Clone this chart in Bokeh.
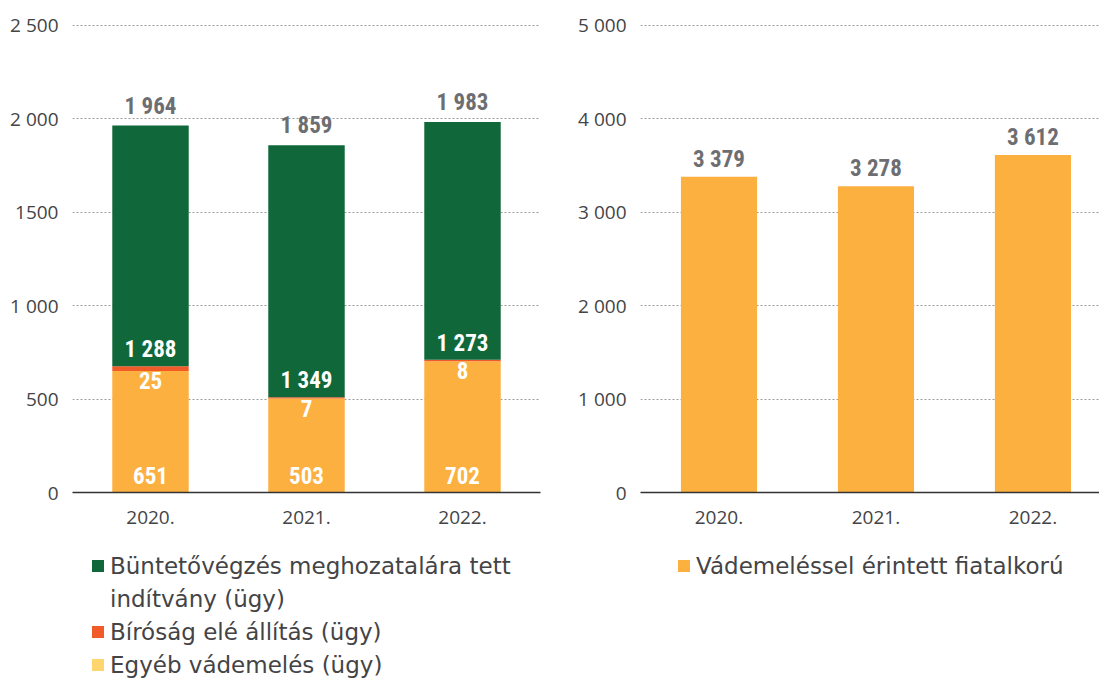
from bokeh.plotting import figure
from bokeh.layouts import row, column
from bokeh.models import (ColumnDataSource, FactorRange, Range1d, FixedTicker,
                          Legend, LegendItem)
from bokeh.embed import file_html
from bokeh.resources import INLINE
from bokeh.core.properties import value

# ---------------- data ----------------
years = ["2020.", "2021.", "2022."]
egyeb = [651, 503, 702]            # Egyéb vádemelés (ügy)
birosag = [25, 7, 8]               # Bíróság elé állítás (ügy)
buntetovegzes = [1288, 1349, 1273] # Büntetővégzés meghozatalára tett indítvány (ügy)
osszes = [1964, 1859, 1983]        # totals
fiatalkoru = [3379, 3278, 3612]    # Vádemeléssel érintett fiatalkorú

left_ticks = [0, 500, 1000, 1500, 2000, 2500]
left_tick_labels = ["0", "500", "1 000", "1500", "2 000", "2 500"]
right_ticks = [0, 1000, 2000, 3000, 4000, 5000]
right_tick_labels = ["0", "1 000", "2 000", "3 000", "4 000", "5 000"]

# first legend label wraps onto two lines
legend_left = [["Büntetővégzés meghozatalára tett", "indítvány (ügy)"],
               ["Bíróság elé állítás (ügy)"],
               ["Egyéb vádemelés (ügy)"]]
legend_right = [["Vádemeléssel érintett fiatalkorú"]]

# ---------------- style ----------------
GREEN = "#10683a"
RED = "#f15a29"
ORANGE = "#fbb040"
YELLOW = "#ffd56e"
LABEL_GREY = "#6d6e71"
TEXT = "#444446"
NUM_FONT = "'Roboto Condensed', Roboto"
TXT_FONT = "DejaVu Sans"
CHART_H = 540
LEG_H = 142
ROW_H = 33


def fmt(v):
    return f"{v:,}".replace(",", " ")


def style(p, ticks, tick_labels):
    p.outline_line_color = None
    p.xgrid.grid_line_color = None
    p.ygrid.grid_line_color = "#9a9a9a"
    p.ygrid.grid_line_dash = "2 2"
    p.ygrid.grid_line_width = 1
    p.yaxis.ticker = FixedTicker(ticks=ticks)
    p.yaxis.major_label_overrides = {t: l for t, l in zip(ticks, tick_labels)}
    p.yaxis.axis_line_color = None
    p.yaxis.major_tick_line_color = None
    p.yaxis.minor_tick_line_color = None
    p.yaxis.major_label_standoff = 8
    p.yaxis.major_label_text_font = "Open Sans"
    p.yaxis.major_label_text_font_size = "19px"
    p.yaxis.major_label_text_color = TEXT
    p.xaxis.axis_line_color = "#333333"
    p.xaxis.axis_line_width = 1.5
    p.xaxis.major_tick_line_color = None
    p.xaxis.minor_tick_line_color = None
    p.xaxis.major_label_standoff = 12
    p.xaxis.major_label_text_font = "Open Sans"
    p.xaxis.major_label_text_font_size = "19px"
    p.xaxis.major_label_text_color = TEXT


def legend_fig(width, left, right, offset_x, entries):
    f = figure(width=width, height=LEG_H, min_border_left=left, min_border_right=right,
               min_border_top=0, min_border_bottom=0,
               x_axis_location=None, y_axis_location=None,
               output_backend="svg", toolbar_location=None)
    f.outline_line_color = None
    f.xgrid.grid_line_color = None
    f.ygrid.grid_line_color = None
    items = []
    n_rows = 0
    for lines, color in entries:
        for i, line in enumerate(lines):
            alpha = 1 if i == 0 else 0
            r = f.vbar(x=[0], top=[0], width=0, fill_color=color, fill_alpha=alpha,
                       line_color=None)
            items.append(LegendItem(label=line, renderers=[r]))
            n_rows += 1
    top_gap = 9
    lg = Legend(items=items, location=(offset_x, LEG_H - top_gap - n_rows * ROW_H))
    lg.glyph_width = 15
    lg.glyph_height = 15
    lg.label_height = ROW_H
    lg.label_text_font = TXT_FONT
    lg.label_text_font_size = "23px"
    lg.label_text_color = TEXT
    lg.label_standoff = 5
    lg.border_line_color = None
    lg.background_fill_alpha = 0
    lg.padding = 0
    lg.margin = 0
    lg.spacing = 0
    f.add_layout(lg, "center")
    return f


# ---------------- left chart ----------------
src = ColumnDataSource(dict(
    year=years, egyeb=egyeb, birosag=birosag, bunt=buntetovegzes, total=osszes,
    green_base=[a + b for a, b in zip(egyeb, birosag)],
    orange_top=egyeb,
    zero=[0] * len(years),
    lbl_total=[fmt(v) for v in osszes],
    lbl_green=[fmt(v) for v in buntetovegzes],
    lbl_red=[fmt(v) for v in birosag],
    lbl_orange=[fmt(v) for v in egyeb],
))

p1 = figure(x_range=FactorRange(*years), y_range=Range1d(0, 2505),
            width=572, height=CHART_H,
            min_border_left=72, min_border_right=32, min_border_top=24,
            min_border_bottom=CHART_H - 24 - 468,
            output_backend="svg", toolbar_location=None)
p1.vbar_stack(["egyeb", "birosag", "bunt"], x="year", width=0.49,
              color=[ORANGE, RED, GREEN], line_color=None, source=src)

common = dict(text_align="center", text_font=value(NUM_FONT), text_font_style="bold",
              text_font_size="23px", source=src)
p1.text(x="year", y="total", text="lbl_total", text_baseline="bottom", y_offset=-6,
        text_color=LABEL_GREY, **common)
p1.text(x="year", y="green_base", text="lbl_green", text_baseline="bottom", y_offset=-3,
        text_color="white", **common)
p1.text(x="year", y="orange_top", text="lbl_red", text_baseline="top", y_offset=1,
        text_color="white", **common)
p1.text(x="year", y="zero", text="lbl_orange", text_baseline="bottom", y_offset=-9,
        text_color="white", **common)
style(p1, left_ticks, left_tick_labels)

leg1 = legend_fig(572, 72, 32, 18, list(zip(legend_left, [GREEN, RED, YELLOW])))

# ---------------- right chart ----------------
xpos = [i + 0.5 for i in range(len(years))]
src2 = ColumnDataSource(dict(x=xpos, v=fiatalkoru, lbl=[fmt(v) for v in fiatalkoru]))
p2 = figure(x_range=Range1d(0, 2.924), y_range=Range1d(0, 5010),
            width=527, height=CHART_H,
            min_border_left=68, min_border_right=0, min_border_top=24,
            min_border_bottom=CHART_H - 24 - 468,
            output_backend="svg", toolbar_location=None)
p2.vbar(x="x", top="v", width=0.485, color=ORANGE, line_color=None, source=src2)
p2.text(x="x", y="v", text="lbl", text_baseline="bottom", y_offset=-4,
        text_color=LABEL_GREY, text_align="center", text_font=value(NUM_FONT),
        text_font_style="bold", text_font_size="23px", source=src2)
style(p2, right_ticks, right_tick_labels)
p2.xaxis.ticker = FixedTicker(ticks=xpos)
p2.xaxis.major_label_overrides = {x: y for x, y in zip(xpos, years)}

leg2 = legend_fig(527, 68, 0, 36, list(zip(legend_right, [ORANGE])))

layout = row(column(p1, leg1), column(p2, leg2))
open("out.html", "w").write(file_html(layout, INLINE))
